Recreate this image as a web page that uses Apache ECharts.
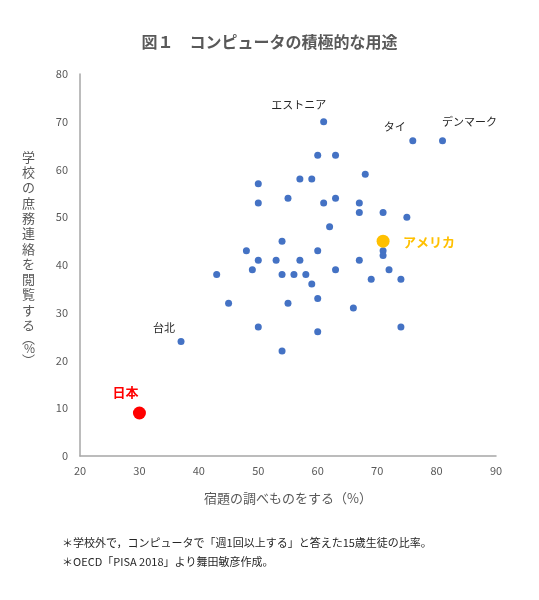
<!DOCTYPE html>
<html>
<head>
<meta charset="utf-8">
<script src="https://cdn.jsdelivr.net/npm/echarts@6/dist/echarts.min.js"></script>
<style>
html,body{margin:0;padding:0;background:#fff;}
#chart{width:539px;height:600px;}
</style>
</head>
<body>
<div id="chart"></div>
<script>
// Unlabeled countries: homework research (%) vs school admin notices (%)
const otherX = [60,63,68,57,59,50,55,63,50,61,67,67,71,75,62,54,48,60,71,71,50,53,57,67,49,63,72,43,54,56,58,59,69,74,60,45,55,66,50,74,60,54];
const otherY = [63,63,59,58,58,57,54,54,53,53,53,51,51,50,48,45,43,43,43,42,41,41,41,41,39,39,39,38,38,38,38,36,37,37,33,32,32,31,27,27,26,22];
// Labeled countries
const labeledNames = ['エストニア','タイ','デンマーク','台北'];
const labeledX = [61,76,81,37];
const labeledY = [70,66,66,24];
// Highlighted
const usName = 'アメリカ', usX = 71, usY = 45;
const jpName = '日本', jpX = 30, jpY = 9;
// Axis ticks
const xMin = 20, xMax = 90, xStep = 10;
const yMin = 0, yMax = 80, yStep = 10;

const FONT = '"Noto Sans CJK JP", "Noto Sans", sans-serif';
const labelOffsets = [[-25,-17],[-18,-14],[27,-19],[-17,-14]];

const yName = '学校の庶務連絡を閲覧する';
const yNameRich = yName.split('').join('\n') + '\n{p|︵}\n{q|%}\n{p|︶}';

const chart = echarts.init(document.getElementById('chart'));
chart.setOption({
  backgroundColor: '#fff',
  animation: false,
  textStyle: { fontFamily: FONT },
  title: {
    text: '図１　コンピュータの積極的な用途',
    left: 'center',
    top: 29,
    textStyle: { fontFamily: FONT, fontSize: 16, fontWeight: 'bold', color: '#595959' }
  },
  grid: { left: 80, right: 43, top: 74, bottom: 144 },
  xAxis: {
    type: 'value', min: xMin, max: xMax, interval: xStep,
    name: '宿題の調べものをする（%）',
    nameLocation: 'middle', nameGap: 36,
    nameTextStyle: { fontFamily: FONT, fontSize: 13, color: '#595959' },
    axisLine: { show: true, lineStyle: { color: '#a6a6a6', width: 1.5 } },
    axisTick: { show: false },
    splitLine: { show: false },
    axisLabel: { color: '#595959', fontSize: 11, margin: 9, fontFamily: FONT }
  },
  yAxis: {
    type: 'value', min: yMin, max: yMax, interval: yStep,
    name: yNameRich,
    nameLocation: 'middle', nameRotate: 0, nameGap: 45,
    nameTextStyle: {
      fontFamily: FONT, fontSize: 13, color: '#595959', lineHeight: 15.3,
      padding: [0, 0, 16, 0],
      rich: {
        p: { fontSize: 13, color: '#595959', lineHeight: 10 },
        q: { fontSize: 12, color: '#595959', lineHeight: 12 }
      }
    },
    axisLine: { show: true, lineStyle: { color: '#a6a6a6', width: 1.5 } },
    axisTick: { show: false },
    splitLine: { show: false },
    axisLabel: { color: '#595959', fontSize: 11, margin: 12, fontFamily: FONT }
  },
  series: [
    {
      type: 'scatter', symbolSize: 7, z: 2,
      itemStyle: { color: '#4472C4', opacity: 1 },
      data: otherX.map((x, i) => [x, otherY[i]])
    },
    {
      type: 'scatter', symbolSize: 7, z: 2,
      itemStyle: { color: '#4472C4', opacity: 1 },
      label: {
        show: true, position: 'inside', align: 'center', verticalAlign: 'middle',
        color: '#262626', fontSize: 11, fontFamily: FONT,
        formatter: p => p.name
      },
      data: labeledNames.map((n, i) => ({
        name: n, value: [labeledX[i], labeledY[i]],
        label: { offset: labelOffsets[i] }
      }))
    },
    {
      type: 'scatter', symbolSize: 13, z: 3,
      itemStyle: { color: '#FFC000', opacity: 1 },
      label: {
        show: true, position: 'inside', align: 'center', verticalAlign: 'middle',
        offset: [46, 1], color: '#FFC000', fontSize: 13, fontWeight: 'bold', fontFamily: FONT,
        formatter: p => p.name
      },
      data: [{ name: usName, value: [usX, usY] }]
    },
    {
      type: 'scatter', symbolSize: 13, z: 3,
      itemStyle: { color: '#FF0000', opacity: 1 },
      label: {
        show: true, position: 'inside', align: 'center', verticalAlign: 'middle',
        offset: [-14, -21], color: '#FF0000', fontSize: 13, fontWeight: 'bold', fontFamily: FONT,
        formatter: p => p.name
      },
      data: [{ name: jpName, value: [jpX, jpY] }]
    }
  ],
  graphic: [
    {
      type: 'text', left: 62, top: 537,
      style: { text: '＊学校外で，コンピュータで「週1回以上する」と答えた15歳生徒の比率。', font: '11px ' + FONT, fill: '#262626' }
    },
    {
      type: 'text', left: 62, top: 556,
      style: { text: '＊OECD「PISA 2018」より舞田敏彦作成。', font: '11px ' + FONT, fill: '#262626' }
    }
  ]
});
</script>
</body>
</html>
